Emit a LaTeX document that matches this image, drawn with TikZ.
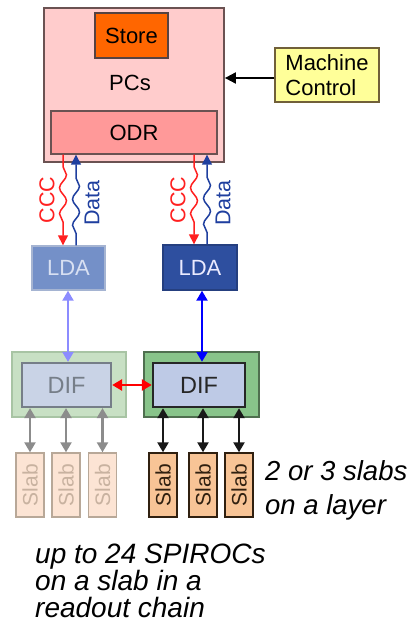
\documentclass[tikz,border=0pt]{standalone}
\usepackage{fontspec}
\setmainfont{Liberation Sans}
\usetikzlibrary{arrows.meta,decorations.pathmorphing,calc}
\definecolor{pcfill}{HTML}{FFCCCC}
\definecolor{pcdraw}{HTML}{6B5252}
\definecolor{storefill}{HTML}{FF6600}
\definecolor{odrfill}{HTML}{FF9999}
\definecolor{mcfill}{HTML}{FFFF99}
\definecolor{ldaAfill}{HTML}{7490C8}
\definecolor{ldaAtext}{HTML}{D8E0F2}
\definecolor{ldaBfill}{HTML}{2E4F9F}
\definecolor{difAout}{HTML}{C8E0C4}
\definecolor{difAoutd}{HTML}{A8C4A4}
\definecolor{difAin}{HTML}{C9D3E6}
\definecolor{difAind}{HTML}{767E88}
\definecolor{difBout}{HTML}{88C48A}
\definecolor{difBoutd}{HTML}{4F6F4F}
\definecolor{difBin}{HTML}{BECAE6}
\definecolor{slabAfill}{HTML}{FCE4D4}
\definecolor{slabAdraw}{HTML}{B8A898}
\definecolor{slabAtext}{HTML}{C8B2A0}
\definecolor{slabBfill}{HTML}{F8C496}
\definecolor{slabBdraw}{HTML}{302010}
\definecolor{cccred}{HTML}{FF2020}
\definecolor{datablue}{HTML}{1F3F9F}
\definecolor{lavender}{HTML}{8C8CFF}
\begin{document}
\begin{tikzpicture}[x=1bp,y=-1bp,
  box/.style={rectangle, inner sep=0pt, line width=1.4bp},
  lbl/.style={font=\fontsize{22bp}{26bp}\selectfont},
  slabA/.style={box, draw=slabAdraw, fill=slabAfill, minimum width=28bp, minimum height=64bp},
  slabB/.style={box, draw=slabBdraw, fill=slabBfill, minimum width=28bp, minimum height=64bp},
  slabtxt/.style={rotate=90, font=\fontsize{21bp}{24bp}\selectfont},
  wave/.style={decorate, decoration={snake, amplitude=3.5bp, segment length=26bp, pre length=12bp, post length=18bp}, line width=1.5bp},
  tip/.style={-{Triangle[width=10bp,length=10bp]}},
  dtip/.style={{Triangle[width=11bp,length=10bp]}-{Triangle[width=11bp,length=10bp]}},
  vlbl/.style={rotate=90, font=\fontsize{21.5bp}{24bp}\selectfont},
  note/.style={font=\fontsize{28bp}{27bp}\itshape\selectfont, align=left, anchor=north west, inner sep=0pt}
]
\useasboundingbox (0,0) rectangle (411,623);
\fill[white] (0,0) rectangle (411,623);

% PCs
\node[box, draw=pcdraw, fill=pcfill, line width=1.8bp, minimum width=180bp, minimum height=154bp] (PC) at (134,85) {};
\node[box, draw=pcdraw!80!black, fill=storefill, minimum width=73bp, minimum height=45bp, lbl] (Store) at (131.5,35.5) {Store};
\node[lbl, inner sep=0pt] (PCtxt) at (130,83) {PCs};
\node[box, draw=pcdraw, fill=odrfill, minimum width=166bp, minimum height=43bp, lbl] (ODR) at (134,132.5) {ODR};

% Machine control
\node[box, draw=pcdraw!70!olive, fill=mcfill, minimum width=104bp, minimum height=54bp, lbl, align=left, font=\fontsize{22bp}{25bp}\selectfont] (MC) at (327,75) {Machine\\Control};
\draw[line width=2bp, -{Triangle[width=11bp,length=11bp]}] (MC.west |- 0,78) -- (PC.east |- 0,78);

% LDAs
\node[box, draw=ldaAfill!90!black!60, fill=ldaAfill, minimum width=73bp, minimum height=44bp, lbl, text=ldaAtext] (LDAa) at (68.5,268) {LDA};
\node[box, draw=ldaBfill!80!black, fill=ldaBfill, minimum width=74bp, minimum height=45bp, lbl, text=white!92!blue] (LDAb) at (200,267.5) {LDA};

% Wavy links
\draw[wave, cccred, tip] (63,0 |- ODR.south) -- (63,0 |- LDAa.north);
\draw[wave, datablue, tip] (76,0 |- LDAa.north) -- (76,0 |- ODR.south);
\draw[wave, cccred, tip] (194,0 |- ODR.south) -- (194,0 |- LDAb.north);
\draw[wave, datablue, tip] (207,0 |- LDAb.north) -- (207,0 |- ODR.south);
\node[vlbl, text=cccred] (cccA) at (47,200) {CCC};
\node[vlbl, text=datablue] (dataA) at (92,203) {Data};
\node[vlbl, text=cccred] (cccB) at (178,200) {CCC};
\node[vlbl, text=datablue] (dataB) at (223,203) {Data};

% DIFs
\node[box, draw=difAoutd, fill=difAout, minimum width=114bp, minimum height=65bp] (DIFAo) at (69,384.5) {};
\node[box, draw=difAind, fill=difAin, line width=2.2bp, minimum width=89bp, minimum height=44bp, text=difAind, font=\fontsize{23.5bp}{27bp}\selectfont] (DIFA) at (66.5,385) {DIF};
\node[box, draw=difBoutd, fill=difBout, minimum width=115bp, minimum height=65bp] (DIFBo) at (201.5,384.5) {};
\node[box, draw=black!85, fill=difBin, line width=2.4bp, minimum width=92bp, minimum height=44bp, text=black!85, font=\fontsize{23.5bp}{27bp}\selectfont] (DIFB) at (199,385) {DIF};

% LDA - DIF
\draw[lavender, line width=2.2bp, dtip] (68,0 |- LDAa.south) -- (68,0 |- DIFA.north);
\draw[blue, line width=2.2bp, dtip] (202,0 |- LDAb.south) -- (202,0 |- DIFB.north);
\draw[red, line width=2.6bp, dtip] (DIFA.east) -- (DIFB.west);

% Slabs
\node[slabA] (sA1) at (30,485) {};
\node[slabA] (sA2) at (66,485) {};
\node[slabA] (sA3) at (102.5,485) {};
\node[slabB] (sB1) at (163,485) {};
\node[slabB] (sB2) at (203,485) {};
\node[slabB] (sB3) at (239,485) {};
\foreach \s in {sA1,sA2,sA3} {
  \node[slabtxt, text=slabAtext] at (\s) {Slab};
  \draw[black!45, line width=2.3bp, dtip] (\s.north |- DIFA.south) -- (\s.north);
}
\foreach \s in {sB1,sB2,sB3} {
  \node[slabtxt, text=slabBdraw] at (\s) {Slab};
  \draw[black!90, line width=2.3bp, dtip] (\s.north |- DIFB.south) -- (\s.north);
}

% Notes
\node[note, font=\fontsize{27.5bp}{34bp}\itshape\selectfont] (n1) at (265,460) {2 or 3 slabs\\on a layer};
\node[note] (n2) at (35,544) {up to 24 SPIROCs\\on a slab in a\\readout chain};
\end{tikzpicture}
\end{document}
